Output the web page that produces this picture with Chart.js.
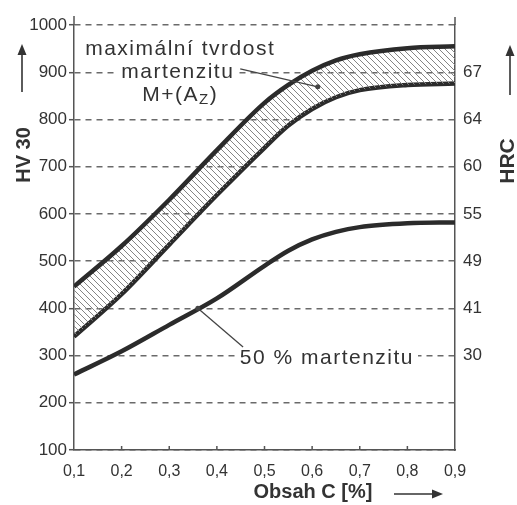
<!DOCTYPE html>
<html>
<head>
<meta charset="utf-8">
<script src="https://cdn.jsdelivr.net/npm/chart.js@4.4.0/dist/chart.umd.min.js"></script>
<style>
  html, body { margin: 0; padding: 0; background: #fff; }
  #wrap { width: 517px; height: 505px; }
</style>
</head>
<body>
<div id="wrap"><canvas id="hardnessChart" width="517" height="505"></canvas></div>
<script>
// carbon content [%] and Vickers hardness HV 30
const carbon = [0.1, 0.2, 0.3, 0.4, 0.5, 0.55, 0.6, 0.65, 0.7, 0.8, 0.9];
const maxHardnessUpper = [446, 532, 630, 735, 835, 873, 903, 925, 938, 951, 955];
const maxHardnessLower = [340, 430, 535, 640, 740, 787, 822, 847, 862, 873, 876];
const halfMartensite = [260, 309, 365, 421, 490, 522, 546, 562, 572, 580, 582];

const xTicks = [0.1, 0.2, 0.3, 0.4, 0.5, 0.6, 0.7, 0.8, 0.9];
const hvTicks = [100, 200, 300, 400, 500, 600, 700, 800, 900, 1000];
const hrcAt = [300, 400, 500, 600, 700, 800, 900];
const hrcLabels = ["30", "41", "49", "55", "60", "64", "67"];

const SANS = '"Liberation Sans", Arial, sans-serif';
const INK = '#2b2b2b';
const TEXT = '#333';
const AXIS = '#555';

const canvas = document.getElementById("hardnessChart");
const ctx = canvas.getContext("2d");

function hatchPattern() {
    const c = document.createElement("canvas");
    c.width = 6; c.height = 6;
    const g = c.getContext("2d");
    g.strokeStyle = "#858585";
    g.lineWidth = 1;
    g.beginPath();
    g.moveTo(0, 0); g.lineTo(6, 6);
    g.moveTo(-6, 0); g.lineTo(6, 12);
    g.moveTo(0, -6); g.lineTo(12, 6);
    g.stroke();
    return ctx.createPattern(c, "repeat");
}

function toPoints(values) {
    return carbon.map((c, i) => ({ x: c, y: values[i] }));
}

function lineSet(values, extra) {
    return Object.assign({
        data: toPoints(values),
        borderColor: INK,
        borderWidth: 4.5,
        pointRadius: 0,
        cubicInterpolationMode: "monotone",
        fill: false
    }, extra || {});
}

function arrow(g, x1, y1, x2, y2) {
    const a = Math.atan2(y2 - y1, x2 - x1);
    g.beginPath();
    g.moveTo(x1, y1);
    g.lineTo(x2 - 6 * Math.cos(a), y2 - 6 * Math.sin(a));
    g.stroke();
    g.beginPath();
    g.moveTo(x2, y2);
    g.lineTo(x2 - 11 * Math.cos(a) + 4.5 * Math.sin(a), y2 - 11 * Math.sin(a) - 4.5 * Math.cos(a));
    g.lineTo(x2 - 11 * Math.cos(a) - 4.5 * Math.sin(a), y2 - 11 * Math.sin(a) + 4.5 * Math.cos(a));
    g.closePath();
    g.fill();
}

function label(g, text, cx, cy, blank) {
    const w = g.measureText(text).width;
    if (blank) {
        g.fillStyle = "#fff";
        g.fillRect(cx - w / 2 - 4, cy - 10, w + 8, 20);
    }
    g.fillStyle = TEXT;
    g.fillText(text, cx, cy);
}

const decorations = {
    id: "decorations",
    afterDraw(chart) {
        const g = chart.ctx;
        const a = chart.chartArea;
        const x = chart.scales.x;
        const y = chart.scales.y;
        const P = (c, hv) => [x.getPixelForValue(c), y.getPixelForValue(hv)];

        g.save();

        // axis lines run a little above the top gridline, x ticks point inward
        g.strokeStyle = AXIS;
        g.lineWidth = 1.5;
        g.beginPath();
        g.moveTo(a.left, a.top); g.lineTo(a.left, a.top - 9);
        g.moveTo(a.right, a.top); g.lineTo(a.right, a.top - 8);
        xTicks.slice(1, -1).forEach(v => {
            const px = x.getPixelForValue(v);
            g.moveTo(px, a.bottom); g.lineTo(px, a.bottom - 4);
        });
        g.stroke();

        // axis titles with arrows
        g.fillStyle = TEXT;
        g.strokeStyle = TEXT;
        g.lineWidth = 1.6;
        g.font = "bold 20px " + SANS;
        g.textAlign = "center";
        g.textBaseline = "middle";

        g.save();
        g.translate(24, 155);
        g.rotate(-Math.PI / 2);
        g.fillText("HV 30", 0, 0);
        g.restore();
        arrow(g, 22, 92, 22, 44);

        g.save();
        g.font = "bold 21px " + SANS;
        g.translate(508, 161);
        g.rotate(-Math.PI / 2);
        g.fillText("HRC", 0, 0);
        g.restore();
        arrow(g, 510, 95, 510, 45);

        g.fillText("Obsah C [%]", 313, 492);
        arrow(g, 394, 494, 443, 494);

        // annotations
        g.font = "21px " + SANS;
        g.letterSpacing = "1.5px";
        let p = P(0.323, 949);
        label(g, "maximální tvrdost", p[0], p[1], false);
        p = P(0.318, 900);
        label(g, "martenzitu", p[0], p[1], true);

        // M+(A_Z) with subscript
        p = P(0.323, 852);
        const parts = ["M+(A", "Z", ")"];
        g.font = "21px " + SANS;
        const w0 = g.measureText(parts[0]).width;
        const w2 = g.measureText(parts[2]).width;
        g.font = "15px " + SANS;
        const w1 = g.measureText(parts[1]).width;
        let sx = p[0] - (w0 + w1 + w2) / 2;
        g.textAlign = "left";
        g.fillStyle = TEXT;
        g.font = "21px " + SANS;
        g.fillText(parts[0], sx, p[1]);
        g.font = "15px " + SANS;
        g.fillText(parts[1], sx + w0, p[1] + 5);
        g.font = "21px " + SANS;
        g.fillText(parts[2], sx + w0 + w1, p[1]);
        g.textAlign = "center";

        p = P(0.631, 295);
        label(g, "50 % martenzitu", p[0], p[1], true);
        g.letterSpacing = "0px";

        // leader lines with dots
        g.strokeStyle = "#444";
        g.fillStyle = "#444";
        g.lineWidth = 1.3;
        [[P(0.449, 907), P(0.612, 869)], [P(0.455, 318), P(0.36, 400)]].forEach(([s, e]) => {
            g.beginPath();
            g.moveTo(s[0], s[1]);
            g.lineTo(e[0], e[1]);
            g.stroke();
            g.beginPath();
            g.arc(e[0], e[1], 2.5, 0, Math.PI * 2);
            g.fill();
        });

        g.restore();
    }
};

const chart = new Chart(ctx, {
    type: "line",
    data: {
        datasets: [
            lineSet(maxHardnessUpper, { fill: "+1", backgroundColor: hatchPattern() }),
            lineSet(maxHardnessLower),
            lineSet(halfMartensite)
        ]
    },
    options: {
        responsive: false,
        animation: false,
        devicePixelRatio: 1,
        layout: { padding: { top: 25, left: 0, right: 0, bottom: 0 } },
        plugins: {
            legend: { display: false },
            tooltip: { enabled: false }
        },
        scales: {
            x: {
                type: "linear",
                min: 0.1,
                max: 0.9,
                afterBuildTicks: s => { s.ticks = xTicks.map(v => ({ value: v })); },
                afterFit: s => { s.height = 55; },
                grid: { display: false, drawTicks: false },
                border: { display: true, color: AXIS, width: 1.5 },
                ticks: {
                    padding: 12,
                    color: TEXT,
                    font: { family: SANS, size: 16 },
                    maxRotation: 0,
                    callback: v => v.toFixed(1).replace(".", ",")
                }
            },
            y: {
                position: "left",
                min: 100,
                max: 1000,
                afterBuildTicks: s => { s.ticks = hvTicks.map(v => ({ value: v })); },
                afterFit: s => { s.width = 74; },
                grid: {
                    color: "#6a6a6a",
                    lineWidth: 1.4,
                    tickLength: 5,
                    tickColor: AXIS,
                    tickWidth: 1.5,
                    tickBorderDash: []
                },
                border: { display: true, color: AXIS, width: 1.5, dash: [6, 5] },
                ticks: {
                    padding: 2,
                    color: TEXT,
                    font: { family: SANS, size: 17 },
                    callback: v => String(v)
                }
            },
            y2: {
                position: "right",
                min: 100,
                max: 1000,
                afterBuildTicks: s => { s.ticks = hrcAt.map(v => ({ value: v })); },
                afterFit: s => { s.width = 62; },
                grid: { display: false, drawTicks: false },
                border: { display: true, color: AXIS, width: 1.5 },
                ticks: {
                    padding: 8,
                    color: TEXT,
                    font: { family: SANS, size: 17 },
                    callback: v => hrcLabels[hrcAt.indexOf(v)]
                }
            }
        }
    },
    plugins: [decorations]
});
</script>
</body>
</html>
